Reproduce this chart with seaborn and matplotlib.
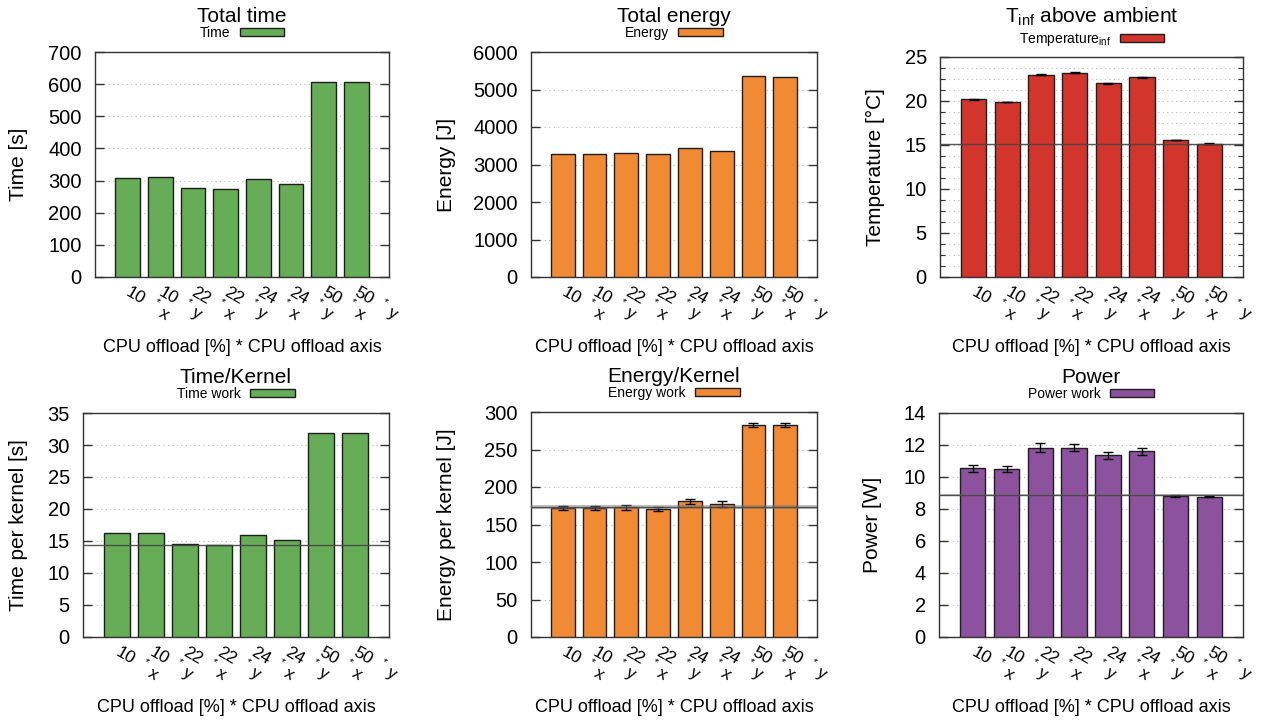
import numpy as np
import pandas as pd
import matplotlib
matplotlib.use("Agg")
import matplotlib.pyplot as plt
import matplotlib.patches as mpatches
from matplotlib.ticker import MultipleLocator
import seaborn as sns

# ---------------- data ----------------
offload = ["10", "10", "22", "22", "24", "24", "50", "50"]
axis_name = ["x", "y", "x", "y", "x", "y", "x", "y"]

total_time = [309, 311, 277, 275, 304, 290, 606, 606]
total_energy = [3270, 3270, 3300, 3270, 3440, 3370, 5370, 5340]
temperature = [20.2, 19.9, 23.0, 23.2, 22.0, 22.7, 15.57, 15.15]
temperature_err = [0.04, 0.04, 0.04, 0.04, 0.04, 0.04, 0.04, 0.04]
time_kernel = [16.2, 16.3, 14.6, 14.45, 16.0, 15.2, 31.85, 31.85]
energy_kernel = [172, 172, 173, 171, 181, 178, 283, 282.5]
energy_kernel_err = [2.7, 2.7, 3.5, 2.5, 3.5, 4.0, 3.0, 2.5]
power = [10.54, 10.5, 11.84, 11.84, 11.35, 11.6, 8.82, 8.78]
power_err = [0.22, 0.2, 0.26, 0.2, 0.2, 0.23, 0.05, 0.05]

ref_temperature = 15.15
ref_time_kernel = 14.45
ref_energy_kernel = 173.0
ref_energy_kernel_band = 2.5
ref_power = 8.86
ref_power_band = 0.07

# ---------------- style ----------------
sns.set_theme(style="white")
plt.rcParams["font.family"] = ["Liberation Sans", "DejaVu Sans"]
plt.rcParams["mathtext.fontset"] = "custom"
plt.rcParams["mathtext.rm"] = "Liberation Sans"
plt.rcParams["mathtext.it"] = "Liberation Sans:italic"
plt.rcParams["text.color"] = "black"
plt.rcParams["axes.labelcolor"] = "black"
plt.rcParams["xtick.color"] = "black"
plt.rcParams["ytick.color"] = "black"

W, H = 1263, 722
fig = plt.figure(figsize=(W / 100, H / 100), dpi=100)

GREEN = "#67ad57"
ORANGE = "#f08a35"
RED = "#d2352c"
PURPLE = "#8c529e"
EDGE = "#1e1e1e"
FRAME = "#333333"


def make_axes(left, right, top, bottom):
    return fig.add_axes([left / W, 1 - bottom / H, (right - left) / W, (bottom - top) / H])


panels = [
    dict(box=(95, 389, 52, 277), values=total_time, err=None, color=GREEN,
         title="Total time", legend="Time", ylabel="Time [s]", ymax=700, step=100,
         minor=None, ref=None, band=None, ylab_dx=77, t_dy=30, l_dy=19),
    dict(box=(531, 817, 52, 277), values=total_energy, err=None, color=ORANGE,
         title="Total energy", legend="Energy", ylabel="Energy [J]", ymax=6000, step=1000,
         minor=None, ref=None, band=None, ylab_dx=84, t_dy=30, l_dy=19),
    dict(box=(940, 1243, 57, 277), values=temperature, err=temperature_err, color=RED,
         title=r"T$_{\mathrm{inf}}$ above ambient", legend=r"Temperature$_{\mathrm{inf}}$",
         ylabel="Temperature [°C]", ymax=25, step=5, minor=1.25,
         ref=ref_temperature, band=None, ylab_dx=65, t_dy=34, l_dy=18),
    dict(box=(83, 389, 413, 637), values=time_kernel, err=None, color=GREEN,
         title="Time/Kernel", legend="Time work", ylabel="Time per kernel [s]", ymax=35, step=5,
         minor=None, ref=ref_time_kernel, band=None, ylab_dx=64, t_dy=30, l_dy=19),
    dict(box=(531, 817, 412, 637), values=energy_kernel, err=energy_kernel_err, color=ORANGE,
         title="Energy/Kernel", legend="Energy work", ylabel="Energy per kernel [J]", ymax=300,
         step=50, minor=None, ref=ref_energy_kernel, band=ref_energy_kernel_band, ylab_dx=85,
         t_dy=30, l_dy=19),
    dict(box=(939, 1243, 413, 637), values=power, err=power_err, color=PURPLE,
         title="Power", legend="Power work", ylabel="Power [W]", ymax=14, step=2,
         minor=None, ref=ref_power, band=ref_power_band, ylab_dx=66, t_dy=30, l_dy=19),
]

for p in panels:
    left, right, top, bottom = p["box"]
    ax = make_axes(left, right, top, bottom)
    width_px = right - left
    height_px = bottom - top
    cats = [f"{o} * {a}" for o, a in zip(offload, axis_name)]
    df = pd.DataFrame({"cat": cats, "val": p["values"]})
    sns.barplot(data=df, x="cat", y="val", ax=ax, color=p["color"], width=0.75,
                edgecolor=EDGE, linewidth=1.0, saturation=1, errorbar=None, zorder=3)
    if p["err"] is not None:
        ax.errorbar(np.arange(len(cats)), p["values"], yerr=p["err"], fmt="none",
                    ecolor="black", elinewidth=1.0, capsize=3.5, capthick=1.0, zorder=5)
    if p["band"] is not None:
        ax.axhspan(p["ref"] - p["band"], p["ref"] + p["band"], color="#777777", alpha=0.45,
                   lw=0, zorder=6)
    if p["ref"] is not None:
        ax.axhline(p["ref"], color="#444444", lw=1.0, alpha=0.9, zorder=6)

    ax.set_xlim(-1, len(cats))
    ax.set_ylim(0, p["ymax"])
    ax.yaxis.set_major_locator(MultipleLocator(p["step"]))
    if p["minor"]:
        ax.yaxis.set_minor_locator(MultipleLocator(p["minor"]))
        ax.grid(True, axis="y", which="minor", color="#bbbbbb", lw=0.8, ls=(0, (1, 3)), zorder=0)
    ax.grid(True, axis="y", which="major", color="#bbbbbb", lw=0.8, ls=(0, (1, 3)), zorder=0)
    ax.set_axisbelow(True)

    ax.tick_params(axis="y", which="major", direction="in", length=6.5, width=1,
                   color=FRAME, left=True, right=True, labelsize=14.5, pad=9.5,
                   labelcolor="black")
    ax.tick_params(axis="y", which="minor", direction="in", length=3.5, width=0.8,
                   color=FRAME, left=True, right=True)
    ax.tick_params(axis="x", length=0, labelbottom=False)
    ax.set_xticks(range(len(cats)))
    for s in ax.spines.values():
        s.set_visible(True)
        s.set_color(FRAME)
        s.set_linewidth(1.0)

    # rotated tick labels (number, star, axis letter) in gnuplot style
    for i, (o, a) in enumerate(zip(offload, axis_name)):
        ax.annotate(o, xy=(i, 0), xycoords=("data", "axes fraction"), xytext=(8, -19),
                    textcoords="offset pixels", rotation=-30, ha="center", va="center",
                    fontsize=12.5)
        ax.annotate("*", xy=(i, 0), xycoords=("data", "axes fraction"), xytext=(29, -25),
                    textcoords="offset pixels", rotation=-30, ha="center", va="center",
                    fontsize=8)
        ax.annotate(a, xy=(i, 0), xycoords=("data", "axes fraction"), xytext=(36, -37),
                    textcoords="offset pixels", rotation=-30, ha="center", va="center",
                    fontsize=12.5)

    ax.set_xlabel("CPU offload [%] * CPU offload axis", fontsize=13)
    ax.xaxis.set_label_coords(0.5, -71 / height_px)
    ax.xaxis.label.set_va("center")
    ax.set_ylabel(p["ylabel"], fontsize=15)
    ax.yaxis.set_label_coords(-p["ylab_dx"] / width_px, 0.5)
    ax.yaxis.label.set_va("center")

    ax.set_title(p["title"], fontsize=15, y=1 + p["t_dy"] / height_px, pad=0)
    handle = mpatches.Patch(facecolor=p["color"], edgecolor=EDGE, lw=1.0, label=p["legend"])
    ax.legend(handles=[handle], loc="center", bbox_to_anchor=(0.5, 1 + p["l_dy"] / height_px),
              markerfirst=False, frameon=False, fontsize=10, handlelength=3.2,
              handleheight=0.5, handletextpad=0.65, borderpad=0, borderaxespad=0)

fig.savefig("out.png", dpi=100)
